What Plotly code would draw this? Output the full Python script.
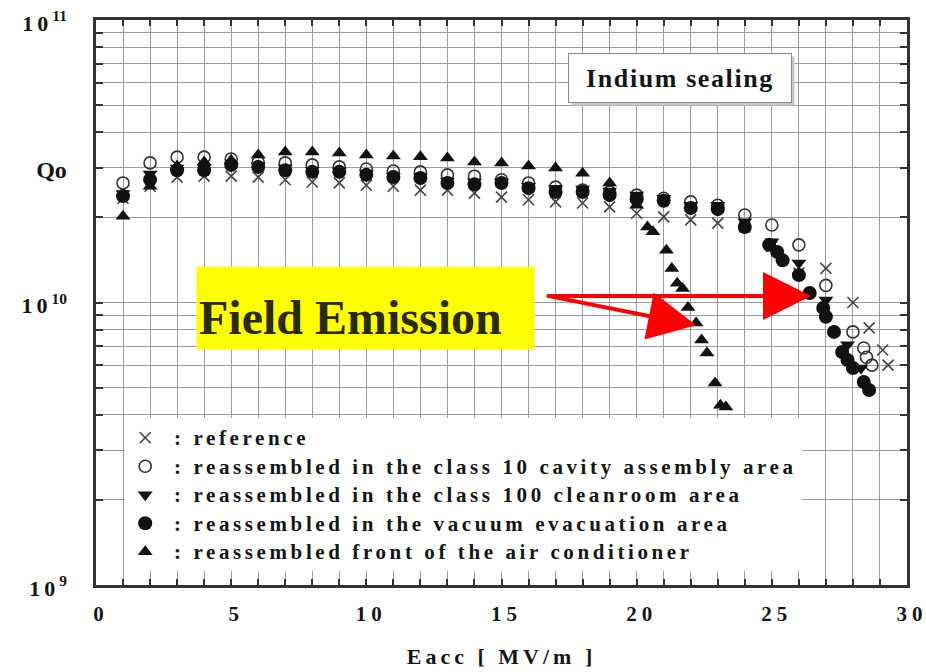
import numpy as np
import plotly.graph_objects as go

# Eacc [MV/m] and Q0 readings for each cavity assembly condition
ref_e = [1, 2, 3, 4, 5, 6, 7, 8, 9, 10, 11, 12, 13, 14, 15, 16, 17, 18, 19, 20,
         21, 22, 23, 24, 25, 26, 27, 28, 28.6, 29.1, 29.3]
ref_q = [2.34e10, 2.58e10, 2.78e10, 2.80e10, 2.80e10, 2.78e10, 2.72e10, 2.67e10,
         2.65e10, 2.60e10, 2.58e10, 2.50e10, 2.50e10, 2.44e10, 2.36e10, 2.31e10,
         2.27e10, 2.25e10, 2.18e10, 2.07e10, 2.01e10, 1.96e10, 1.91e10, 1.85e10,
         1.58e10, 1.27e10, 1.32e10, 1.00e10, 8.13e9, 6.79e9, 6.00e9]

c10_e = [1, 2, 3, 4, 5, 6, 7, 8, 9, 10, 11, 12, 13, 14, 15, 16, 17, 18, 19, 20,
         21, 22, 23, 24, 25, 26, 27, 28, 28.4, 28.5, 28.7]
c10_q = [2.65e10, 3.12e10, 3.27e10, 3.27e10, 3.22e10, 3.14e10, 3.12e10, 3.07e10,
         3.02e10, 2.97e10, 2.92e10, 2.90e10, 2.83e10, 2.80e10, 2.72e10, 2.65e10,
         2.56e10, 2.50e10, 2.46e10, 2.40e10, 2.34e10, 2.27e10, 2.21e10, 2.04e10,
         1.88e10, 1.60e10, 1.15e10, 7.87e9, 6.90e9, 6.40e9, 6.00e9]

c100_e = [1, 2, 3, 4, 5, 6, 7, 8, 9, 10, 11, 12, 13, 14, 15, 16, 17, 18, 19, 20,
          21, 22, 23, 24, 25, 26, 27, 27.8, 28.3]
c100_q = [2.43e10, 2.85e10, 2.99e10, 2.99e10, 3.04e10, 3.04e10, 2.99e10, 2.94e10,
          2.92e10, 2.87e10, 2.80e10, 2.78e10, 2.69e10, 2.67e10, 2.67e10, 2.58e10,
          2.54e10, 2.52e10, 2.48e10, 2.40e10, 2.34e10, 2.21e10, 2.21e10, 1.93e10,
          1.64e10, 1.38e10, 1.02e10, 7.08e9, 5.86e9]

vac_e = [1, 2, 3, 4, 5, 6, 7, 8, 9, 10, 11, 12, 13, 14, 15, 16, 17, 18, 19, 20,
         21, 22, 23, 24, 24.9, 25.2, 25.4, 26, 26.4, 26.9, 27.0, 27.3, 27.6, 27.8,
         28.0, 28.4, 28.6]
vac_q = [2.38e10, 2.72e10, 2.94e10, 2.94e10, 3.07e10, 3.02e10, 2.94e10, 2.90e10,
         2.90e10, 2.83e10, 2.78e10, 2.76e10, 2.65e10, 2.62e10, 2.65e10, 2.54e10,
         2.46e10, 2.46e10, 2.40e10, 2.32e10, 2.29e10, 2.16e10, 2.14e10, 1.85e10,
         1.60e10, 1.51e10, 1.41e10, 1.25e10, 1.08e10, 9.57e9, 8.90e9, 7.87e9,
         6.68e9, 6.26e9, 5.86e9, 5.23e9, 4.90e9]

ac_e = [1, 2, 3, 4, 5, 6, 7, 8, 9, 10, 11, 12, 13, 14, 15, 16, 17, 18, 19, 20,
        20.4, 20.6, 21.1, 21.3, 21.5, 21.7, 21.9, 22.2, 22.4, 22.6, 22.9, 23.1, 23.3]
ac_q = [2.02e10, 2.58e10, 3.04e10, 3.14e10, 3.19e10, 3.33e10, 3.41e10, 3.41e10,
        3.38e10, 3.33e10, 3.30e10, 3.28e10, 3.25e10, 3.14e10, 3.12e10, 3.04e10,
        2.99e10, 2.87e10, 2.65e10, 2.21e10, 1.85e10, 1.78e10, 1.53e10, 1.32e10,
        1.17e10, 1.12e10, 9.60e9, 8.46e9, 7.36e9, 6.62e9, 5.19e9, 4.33e9, 4.27e9]

series_names = [
    "reference",
    "reassembled in the class 10 cavity assembly area",
    "reassembled in the class 100 cleanroom area",
    "reassembled in the vacuum evacuation area",
    "reassembled front of the air conditioner",
]

x_label_vals = [0, 5, 10, 15, 20, 25, 30]
y_label_text = {
    10**9: '<span style="letter-spacing:4px">10</span><sup>9</sup>',
    10**10: '<span style="letter-spacing:4px">10</span><sup>10</sup>',
    3 * 10**10: '<span style="font-size:24px">Qo</span>',
    10**11: '<span style="letter-spacing:4px">10</span><sup>11</sup>',
}

# Field-emission arrow tips (Eacc, Q0) and tail offsets in px
arrow_tips = [(26.45, 1.055e10), (22.2, 8.3e9)]
arrow_tails = [(-263, 0), (-151, -30)]

SERIF = "Liberation Serif"
INK = "#151515"


def spaced(s, px, size=None):
    extra = f";font-size:{size}px" if size else ""
    return f'<span style="letter-spacing:{px}px{extra}">{s}</span>'


fig = go.Figure()

styles = [
    dict(symbol="x-thin", size=11, color="#444", line=dict(width=1.6, color="#444")),
    dict(symbol="circle-open", size=12, color="#333", line=dict(width=1.6, color="#333")),
    dict(symbol="triangle-down", size=13, color="#111"),
    dict(symbol="circle", size=14, color="#111"),
    dict(symbol="triangle-up", size=13, color="#111"),
]
data = [(ref_e, ref_q), (c10_e, c10_q), (c100_e, c100_q), (vac_e, vac_q), (ac_e, ac_q)]

for (xs, ys), name, st in zip(data, series_names, styles):
    fig.add_trace(go.Scatter(
        x=xs, y=ys, mode="markers",
        name="<b>" + spaced("&nbsp;:&nbsp;" + name, 3.6, 21) + "</b>",
        marker=st, cliponaxis=False,
    ))

grid_col = "#9a9aa8"
x_ticks = list(range(0, 31))
fig.update_xaxes(
    range=[0, 30], tickvals=x_ticks, automargin=False,
    ticktext=[spaced(str(v), 5) if v in x_label_vals else "" for v in x_ticks],
    showgrid=True, gridcolor=grid_col, gridwidth=1, zeroline=False,
    showline=True, linecolor="#333", linewidth=2.5, mirror="ticks",
    ticks="inside", ticklen=6, tickcolor="#333", tickwidth=1.5,
    tickfont=dict(family=SERIF, size=21, color=INK, weight="bold"),
    ticklabelstandoff=8, ticklabelshift=5, ticklabeloverflow="allow",
    title=dict(text=spaced("Eacc [ MV/m ]", 4), standoff=24,
               font=dict(family=SERIF, size=22, color=INK, weight="bold")),
)

y_ticks = [m * 10**d for d in (9, 10) for m in range(1, 10)] + [10**11]
fig.update_yaxes(
    type="log", range=[9, 11], tickvals=y_ticks, automargin=False,
    ticktext=[y_label_text.get(v, "") for v in y_ticks],
    showgrid=True, gridcolor=grid_col, gridwidth=1, zeroline=False,
    showline=True, linecolor="#333", linewidth=2.5, mirror="ticks",
    ticks="inside", ticklen=7, tickcolor="#333", tickwidth=1.5,
    tickfont=dict(family=SERIF, size=22, color=INK, weight="bold"),
    ticklabelstandoff=22, ticklabelshift=3, ticklabeloverflow="allow",
)

annotations = []
# "Indium sealing" label box with a faint drop shadow
annotations.append(dict(
    xref="paper", yref="paper", x=0.586, y=0.9363, xanchor="left", yanchor="top",
    text=" ", width=222, height=48, borderpad=0, bgcolor="#c8c8c8", showarrow=False))
annotations.append(dict(
    xref="paper", yref="paper", x=0.582, y=0.9416, xanchor="left", yanchor="top",
    text="<b>" + spaced("Indium sealing", 1.6) + "</b>", width=222, height=48,
    borderpad=0, bgcolor="white", bordercolor="#8a8a8a", borderwidth=1,
    showarrow=False, font=dict(family=SERIF, size=26, color=INK, weight="bold")))
# "Field Emission" highlight: yellow panel, then the caption on top
annotations.append(dict(
    xref="paper", yref="paper", x=0.1233, y=0.416, xanchor="left", yanchor="bottom",
    text=" ", width=337, height=82, borderpad=0, bgcolor="#ffff00", showarrow=False))
annotations.append(dict(
    xref="paper", yref="paper", x=0.1258, y=0.474, xanchor="left", yanchor="middle",
    text="<b>Field Emission</b>", showarrow=False, borderpad=0,
    font=dict(family=SERIF, size=48, color="#2b2b00", weight="bold")))
for (tx, ty), (ax, ay) in zip(arrow_tips, arrow_tails):
    annotations.append(dict(
        x=tx, y=np.log10(ty), xref="x", yref="y", ax=ax, ay=ay, text="",
        showarrow=True, arrowhead=2, arrowsize=2.4, arrowwidth=4,
        arrowcolor="#ff0000", standoff=0))

fig.update_layout(
    width=926, height=672,
    margin=dict(l=96, r=19, t=20, b=87, autoexpand=False),
    paper_bgcolor="white", plot_bgcolor="white",
    annotations=annotations,
    showlegend=True,
    legend=dict(x=0.036, xanchor="left", y=0.1593, yanchor="middle",
                bgcolor="white", borderwidth=0,
                font=dict(family=SERIF, size=19.6, color=INK, weight="bold"),
                itemclick=False, itemdoubleclick=False),
)

fig.write_html("out.html")
